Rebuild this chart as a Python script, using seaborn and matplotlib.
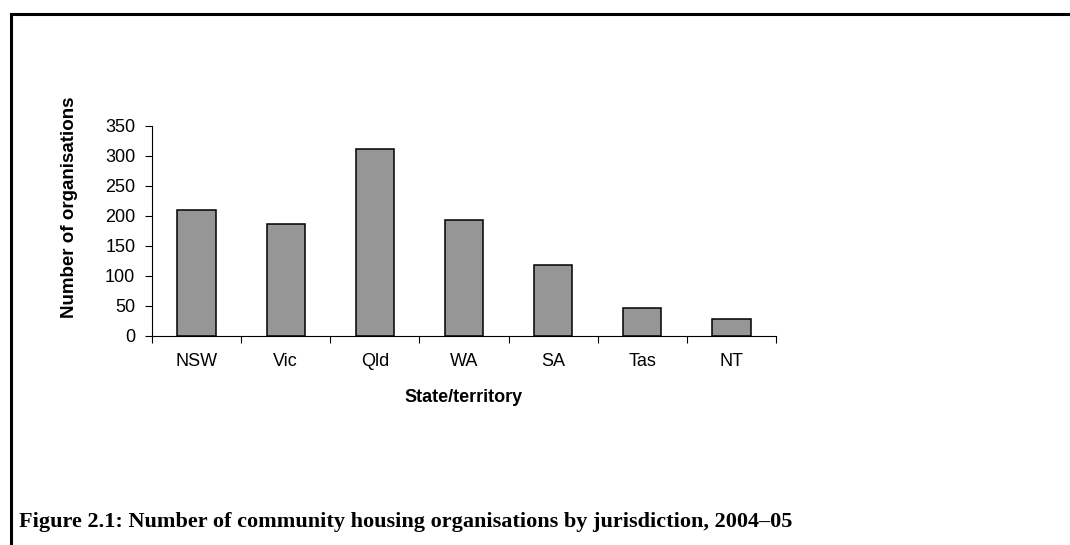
import numpy as np
import pandas as pd
import matplotlib
matplotlib.use("Agg")
import matplotlib.pyplot as plt
from matplotlib.patches import Rectangle
import seaborn as sns

# data
states = ["NSW", "Vic", "Qld", "WA", "SA", "Tas", "NT"]
organisations = [210, 186, 312, 193, 119, 46, 29]
y_ticks = [0, 50, 100, 150, 200, 250, 300, 350]

df = pd.DataFrame({"State/territory": states, "Number of organisations": organisations})

sns.set_style("white")
plt.rcParams["font.family"] = ["Liberation Sans", "DejaVu Sans"]
# plain black text like the original, not seaborn's dark grey
plt.rcParams.update({"text.color": "black", "axes.labelcolor": "black",
                     "xtick.color": "black", "ytick.color": "black"})

W, H = 1070, 545
fig = plt.figure(figsize=(W / 100, H / 100), dpi=100)
# axes placed in pixel terms of the original
ax = fig.add_axes([152 / W, 1 - 336 / H, 624 / W, 210 / H])

sns.barplot(data=df, x="State/territory", y="Number of organisations", ax=ax,
            color="#969696", edgecolor="black", linewidth=1.1, width=0.43,
            saturation=1)

ax.set_xlim(-0.5, len(states) - 0.5)
ax.set_ylim(0, 350)
ax.set_yticks(y_ticks)
ax.tick_params(axis="y", direction="out", length=5, width=0.8, pad=7,
               labelsize=13, left=True)
# category ticks sit between the bars
ax.set_xticks(np.arange(-0.5, len(states)), minor=True)
ax.tick_params(axis="x", which="major", length=0, pad=12, labelsize=13)
ax.tick_params(axis="x", which="minor", direction="out", length=5, width=0.8,
               bottom=True)

for s in ["top", "right"]:
    ax.spines[s].set_visible(False)
for s in ["left", "bottom"]:
    ax.spines[s].set_color("black")
    ax.spines[s].set_linewidth(0.8)

ax.set_xlabel("State/territory", fontsize=13, fontweight="bold", labelpad=14)
ax.set_ylabel("Number of organisations", fontsize=13.5, fontweight="bold")
ax.yaxis.label.set_va("center")
ax.yaxis.set_label_coords((70 - 152) / 624, (336 - 207) / 210)

# frame around the figure (runs off right and bottom)
fig.add_artist(Rectangle((10.5 / W, -0.2), 1.2, 1.2 - 13.5 / H,
                         transform=fig.transFigure, fill=False,
                         edgecolor="black", linewidth=2.2, clip_on=False))

fig.text(19 / W, 1 - 527 / H,
         "Figure 2.1: Number of community housing organisations by jurisdiction, 2004\u201305",
         fontsize=16, fontweight="bold", family=["Liberation Serif", "DejaVu Serif"],
         ha="left", va="baseline")

fig.savefig("out.png", dpi=100, facecolor="white")
